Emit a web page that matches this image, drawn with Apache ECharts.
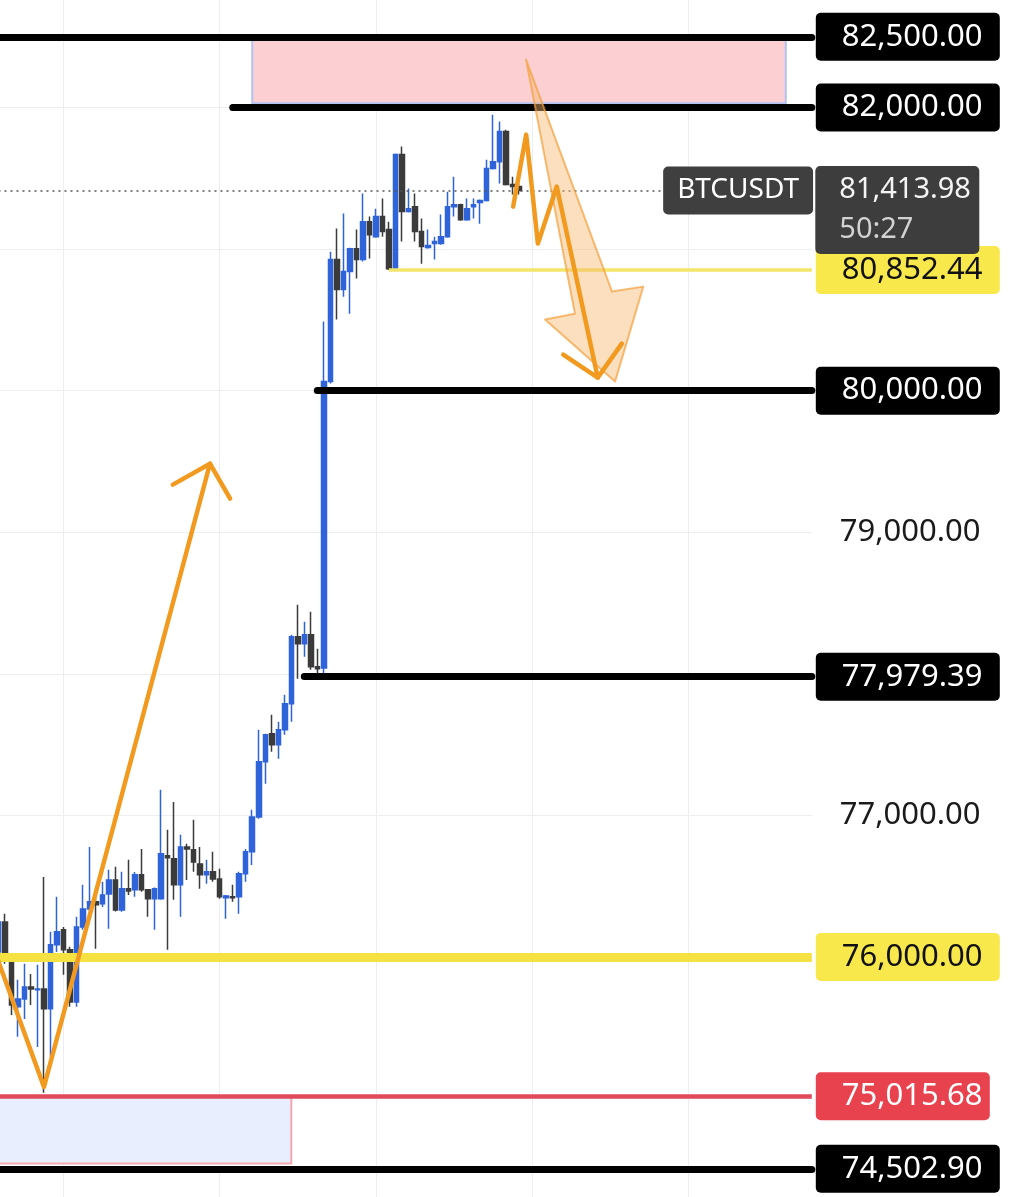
<!DOCTYPE html>
<html>
<head>
<meta charset="utf-8">
<script src="https://cdn.jsdelivr.net/npm/echarts@6/dist/echarts.min.js"></script>
<style>
html,body{margin:0;padding:0;background:#fff;overflow:hidden;width:1020px;height:1197px;position:relative}
#c{position:absolute;left:-2px;top:-34px;width:1022px;height:1274px}
</style>
</head>
<body>
<div id="c"></div>
<script>
// ---- candle data (BTCUSDT) ----
const opens = [76035,76247,75979,75647,75703,75788,75767,75774,75633,76085,76191,76050,75682,76212,76339,76389,76375,76445,76544,76332,76481,76474,76580,76474,76410,76410,76714,76693,76509,76777,76756,76657,76580,76601,76551,76417,76424,76424,76587,76742,76989,77378,77576,77498,77604,77788,78262,78212,78276,78050,78040,80064,80926,80714,80841,81003,80926,81194,81088,81230,81138,80860,81668,81265,81300,81124,81011,81039,81039,81088,81300,81314,81208,81300,81329,81343,81569,81618,81830,81456,81442];
const closes = [76247,75979,75661,75703,75788,75774,75774,75633,76085,76177,76050,75682,76212,76339,76389,76368,76438,76544,76332,76481,76466,76580,76474,76410,76481,76728,76700,76509,76777,76763,76671,76580,76601,76551,76424,76431,76417,76587,76742,76989,77378,77569,77498,77604,77788,78262,78212,78276,78050,78035,80064,80926,80714,80841,81003,80926,81194,81102,81230,81124,80862,81668,81265,81286,81124,81018,81025,81053,81088,81300,81314,81208,81286,81314,81343,81569,81618,81830,81456,81442,81413.98];
const lows = [76000,75951,75590,75435,75562,75661,75364,75040,75293,76035,75873,75647,75647,76191,76318,76057,76353,76198,76320,76318,76438,76424,76460,76283,76191,76403,76050,76403,76283,76544,76601,76481,76516,76530,76410,76269,76389,76304,76530,76650,76975,77223,77449,77399,77569,77661,77965,78120,78028,77979.39,77985,80050,80502,80664,80544,80792,80912,80933,81080,81088,80852.44,80852.44,81053,81258,81053,80897,81003,80926,81030,81080,81230,81200,81200,81216,81180,81336,81562,81463,81450,81385,81385];
const highs = [76304,76304,75990,75838,75951,75880,75944,76565,76177,76424,76212,76071,76283,76509,76777,76481,76530,76615,76636,76601,76686,76600,76763,76480,76490,77180,76898,77095,76862,76799,76968,76777,76686,76742,76622,76438,76509,76601,76763,77039,77604,77576,77710,77661,77852,78276,78488,78368,78438,78177,80488,80982,81145,81251,81010,81138,81392,81230,81286,81357,81194,81675,81724,81428,81392,81216,81138,81088,81244,81406,81512,81320,81357,81357,81350,81632,81950,81901,81844,81512,81463];

const slotCount = 126;                 // candle slots incl. empty space on the right
const slots = Array.from({length: slotCount}, (_, i) => String(i + 1));

// ---- horizontal levels ----
const levelPrices = [82500, 82000, 80852.44, 80000, 77979.39, 76000, 75015.68, 74502.90];
const levelLabels = ['82,500.00', '82,000.00', '80,852.44', '80,000.00', '77,979.39', '76,000.00', '75,015.68', '74,502.90'];
const levelStartSlot = [0, 36, 60, 49, 47, 0, 0, 0];
const levelKinds = ['black', 'black', 'yellowThin', 'black', 'black', 'yellowThick', 'red', 'black'];

// ---- current price ----
const symbolName = 'BTCUSDT';
const lastPrice = 81413.98;
const lastPriceText = '81,413.98';
const countdown = '50:27';
const lastPriceLineEndSlot = 102;

// ---- plain axis tick labels that are shown ----
const shownTicks = [79000, 77000];

// ---- zones: [slotFrom, slotTo, priceTop, priceBottom] ----
const supplyZone = [39, 121, 82500, 82030];
const demandZone = [0, 45, 75015.68, 74540];

// ---- hand-drawn orange annotations in (slot, price) ----
const bigArrow = [[81.08, 82339], [94.3, 80700], [99.1, 80735], [94.76, 80064], [84.0, 80502], [88.6, 80544]];
const vPath = [[-0.5, 76030], [6.99, 75081], [32.5, 79484]];
const vHead = [[26.8, 79336], [32.5, 79484], [35.6, 79237]];
const zigPath = [[79.1, 81300], [81.1, 81809], [82.9, 81039], [85.8, 81442], [92.1, 80092]];
const zigHead = [[86.8, 80254], [92.1, 80092], [95.8, 80332]];

const FONT = '"Noto Sans", "DejaVu Sans", sans-serif';
const candles = opens.map((o, i) => [o, closes[i], lows[i], highs[i]]);

const kindStyle = {
  black: {line: {color: '#000', width: 7, cap: 'round', type: 'solid'}, bg: '#000', fg: '#fff'},
  yellowThin: {line: {color: '#f3e56a', width: 3.5, cap: 'butt', type: 'solid'}, bg: '#f8e84c', fg: '#111'},
  yellowThick: {line: {color: '#f6e142', width: 9, cap: 'butt', type: 'solid'}, bg: '#f8e84c', fg: '#111'},
  red: {line: {color: '#e14a5a', width: 4.5, cap: 'butt', type: 'solid'}, bg: '#e8424f', fg: '#fff'}
};

const levelLines = levelPrices.map((p, i) => {
  const k = kindStyle[levelKinds[i]];
  return [
    {coord: [levelStartSlot[i], p], lineStyle: k.line,
     label: {show: true, position: 'end', distance: 4, formatter: levelLabels[i],
       backgroundColor: k.bg, color: k.fg, fontFamily: FONT, fontSize: 31, lineHeight: 34,
       padding: [7, 12, 7, 26], width: levelKinds[i] === 'red' ? 136 : 146, borderRadius: 5, align: 'left'}},
    {coord: [slotCount - 1, p]}
  ];
});

const priceLine = [
  {coord: [0, lastPrice], lineStyle: {type: [2, 4], color: '#555', width: 1.5},
   label: {show: true, position: 'end', distance: 1, formatter: symbolName,
     backgroundColor: '#3f3f3f', color: '#fff', fontFamily: FONT, fontSize: 28, lineHeight: 32,
     padding: [8, 14, 8, 14], borderRadius: 5, align: 'left'}},
  {coord: [lastPriceLineEndSlot, lastPrice]}
];

const shapes = [
  {kind: 'fill', points: bigArrow},
  {kind: 'line', points: vPath},
  {kind: 'line', points: vHead},
  {kind: 'line', points: zigPath},
  {kind: 'line', points: zigHead}
];

const chart = echarts.init(document.getElementById('c'), null, {renderer: 'canvas'});
chart.setOption({
  animation: false,
  backgroundColor: '#ffffff',
  grid: {left: 0.5, right: 208.2, top: 0, bottom: 0, containLabel: false},
  xAxis: [
    {type: 'category', data: slots, boundaryGap: false,
     axisLine: {show: false}, axisTick: {show: false}, axisLabel: {show: false},
     splitLine: {show: true, interval: (idx) => (idx - 10) % 24 === 0, lineStyle: {color: '#eceef1', width: 1}}},
    {type: 'value', min: 0, max: slotCount - 1, show: false, splitLine: {show: false}}
  ],
  yAxis: {
    type: 'value', position: 'right', min: 74000, max: 83000, interval: 1000, scale: true,
    axisLine: {show: false}, axisTick: {show: false},
    splitLine: {show: true, lineStyle: {color: '#eceef1', width: 1}},
    axisLabel: {show: true, margin: 28, color: '#1a1a1a', fontFamily: FONT, fontSize: 31, align: 'left',
      formatter: (v) => shownTicks.includes(v) ? v.toLocaleString('en-US', {minimumFractionDigits: 2, maximumFractionDigits: 2}) : ''}
  },
  series: [
    {
      type: 'candlestick', name: symbolName, data: candles, barWidth: 5,
      itemStyle: {color: '#2f63d9', color0: '#3b3b3b', borderColor: '#2f63d9', borderColor0: '#3b3b3b', borderWidth: 1.5},
      markArea: {
        silent: true,
        data: [
          [{coord: [supplyZone[0], supplyZone[2]], itemStyle: {color: '#fccfd3', borderColor: '#b2c3f2', borderWidth: 2}},
           {coord: [supplyZone[1], supplyZone[3]]}],
          [{coord: [demandZone[0], demandZone[2]], itemStyle: {color: '#e8eefd', borderColor: '#f0a9b1', borderWidth: 2}},
           {coord: [demandZone[1], demandZone[3]]}]
        ]
      },
      markLine: {
        silent: true, symbol: ['none', 'none'], animation: false,
        data: levelLines.concat([priceLine])
      },
      markPoint: {
        silent: true, animation: false,
        data: [{
          coord: [slotCount - 1, lastPrice], symbol: 'rect', symbolSize: 1, itemStyle: {color: 'rgba(0,0,0,0)'},
          label: {show: true, position: [4, -24], formatter: '{a|' + lastPriceText + '}\n{b|' + countdown + '}',
            backgroundColor: '#3d3d3d', padding: [4, 14, 4, 24], width: 126, borderRadius: 5,
            rich: {a: {fontSize: 29, lineHeight: 40, color: '#f4f4f4', fontFamily: FONT},
                   b: {fontSize: 29, lineHeight: 40, color: '#d2d2d2', fontFamily: FONT}}}
        }]
      }
    },
    {
      type: 'custom', xAxisIndex: 1, yAxisIndex: 0, z: 20, silent: true, clip: false,
      data: shapes.map((s, i) => [i, 80000]),
      renderItem: (params, api) => {
        const s = shapes[params.dataIndex];
        const pts = s.points.map(p => api.coord(p));
        if (s.kind === 'fill') {
          return {type: 'polygon', shape: {points: pts},
            style: {fill: 'rgba(249,184,110,0.45)', stroke: 'rgba(243,160,60,0.7)', lineWidth: 2, lineJoin: 'round'}};
        }
        return {type: 'polyline', shape: {points: pts},
          style: {fill: null, stroke: '#f29a1f', lineWidth: 4.5, lineCap: 'round', lineJoin: 'round'}};
      }
    }
  ]
});
</script>
</body>
</html>
